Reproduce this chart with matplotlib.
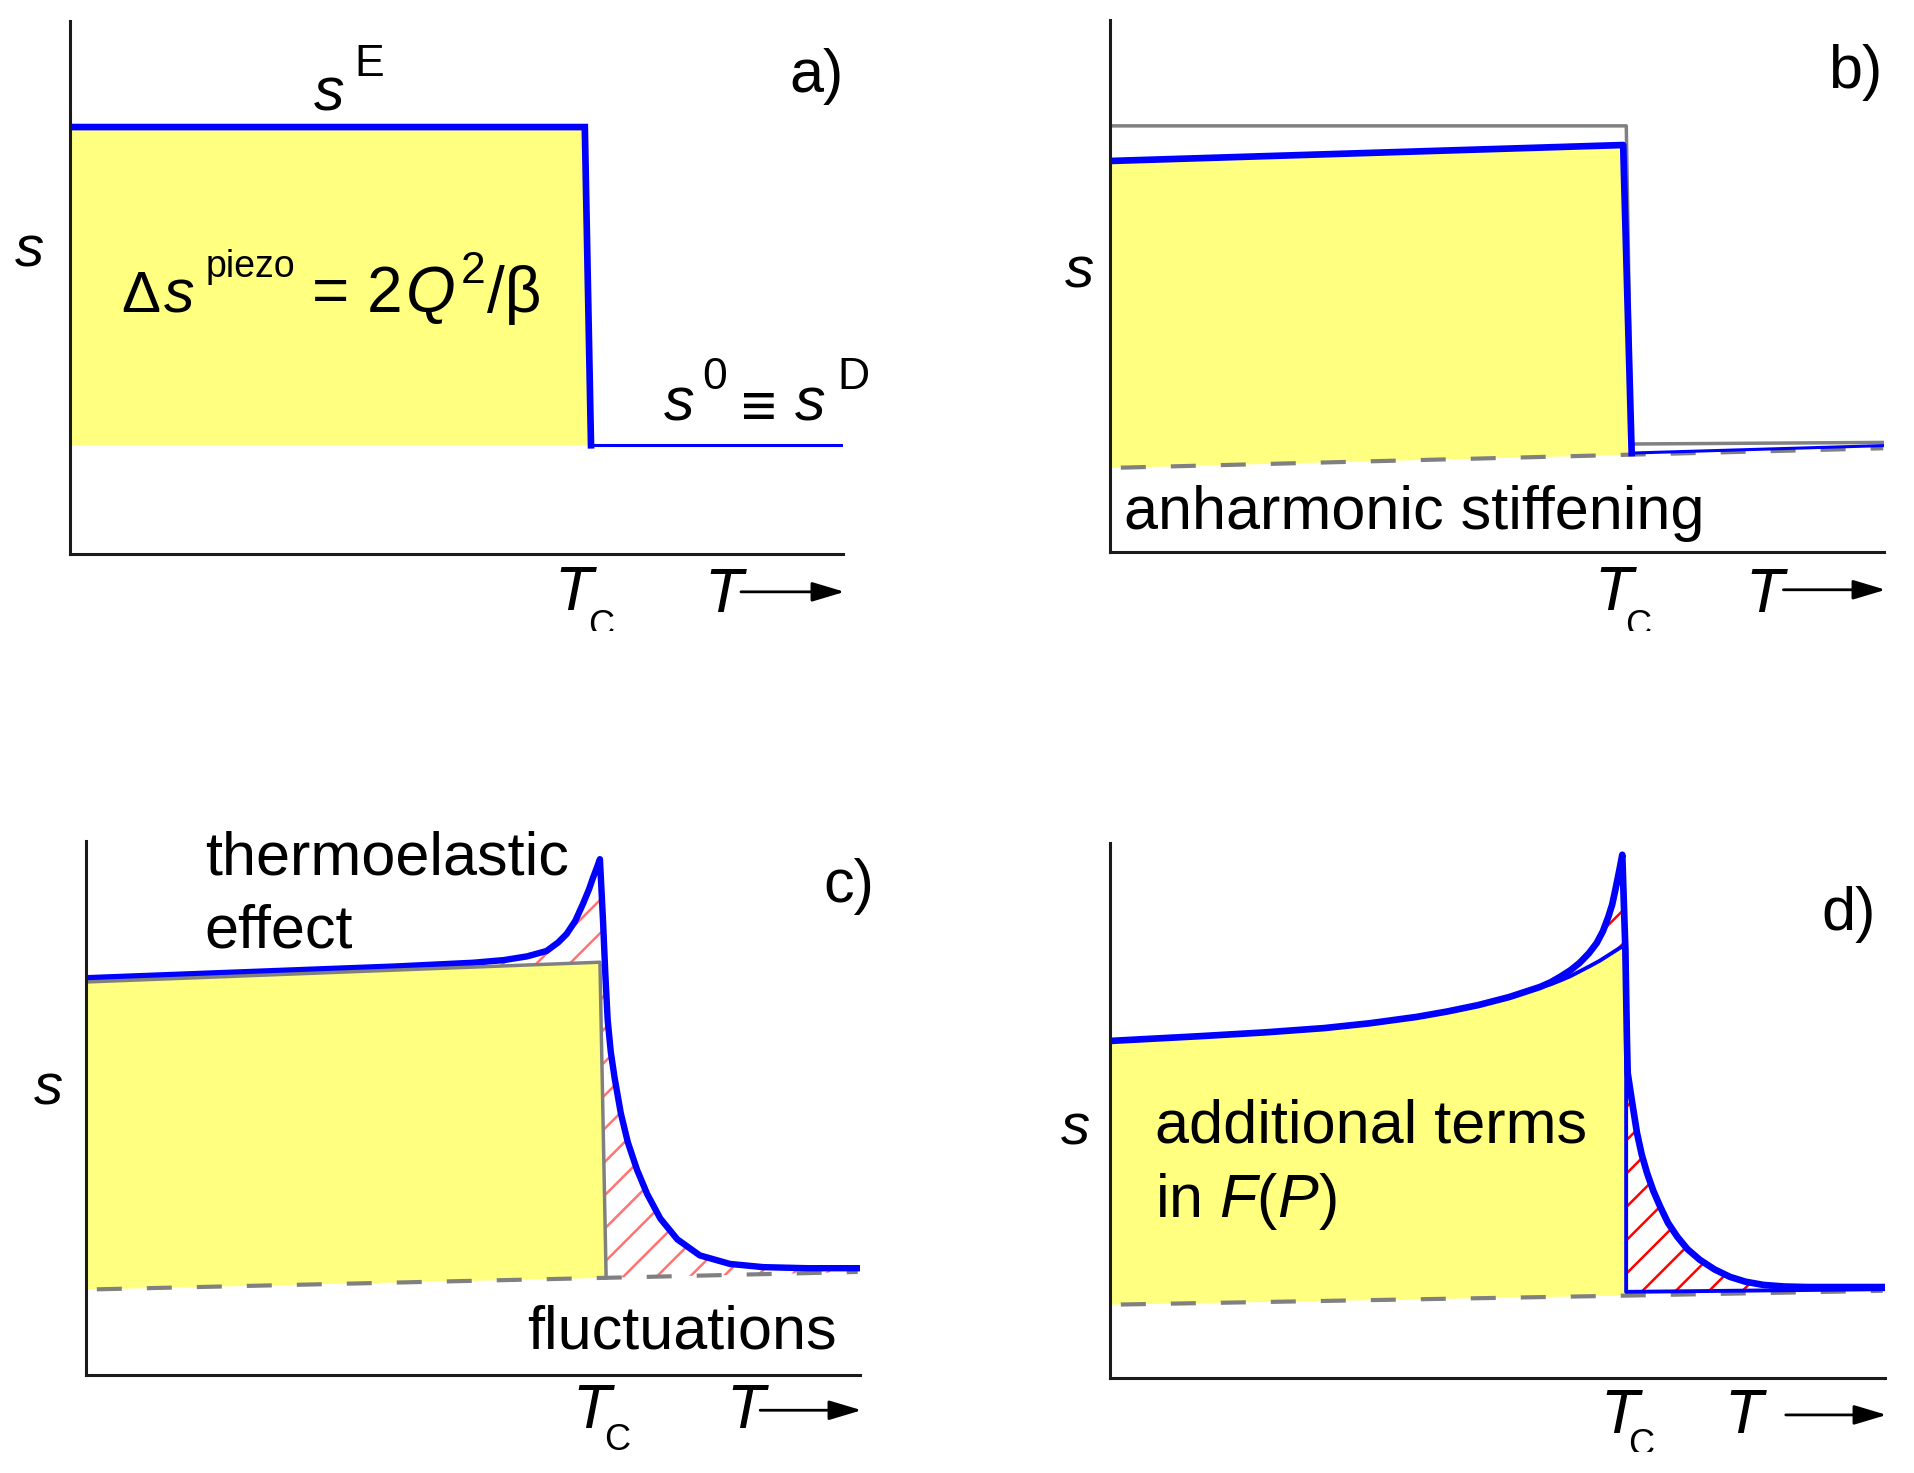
import matplotlib
matplotlib.use('Agg')
import matplotlib.pyplot as plt
from matplotlib.transforms import Bbox, TransformedBbox

plt.rcParams['font.family'] = ['Liberation Sans', 'DejaVu Sans']
plt.rcParams['mathtext.fontset'] = 'custom'
plt.rcParams['mathtext.rm'] = 'Liberation Sans'
plt.rcParams['mathtext.it'] = 'Liberation Sans:italic'
plt.rcParams['hatch.linewidth'] = 1.8

# a) plain step of the compliance at Tc
a_T = [0, 66.6, 67.4, 100]
a_s = [80.1, 80.1, 20.4, 20.4]

# b) anharmonic stiffening
b_T_gray = [0, 66.7, 67.4, 99.9]
b_s_gray = [80.1, 80.1, 20.3, 20.6]
b_T_blue = [0, 66.3, 67.4, 99.9]
b_s_blue = [73.5, 76.5, 18.6, 20.0]
b_T_base = [0, 67.4, 99.9]
b_s_base = [15.8, 18.3, 19.5]

# c) thermoelastic effect + fluctuations
c_T_gray = [0, 66.4, 67.2]
c_s_gray = [73.6, 77.3, 18.2]
c_T_base = [0, 67.2, 99.7]
c_s_base = [16.0, 18.2, 19.3]
c_T = [0, 20, 40, 50, 54, 57, 59.5, 61.0, 62.1, 63.2, 64.2, 65.0, 65.5, 66.0, 66.4,
       66.8, 67.1, 67.4, 67.8, 68.3, 69.1, 70.0, 71.2, 72.5, 74.2, 76.4, 79.3,
       83.2, 87.5, 93.2, 99.7]
c_s = [74.3, 75.4, 76.5, 77.2, 77.7, 78.4, 79.4, 81.0, 82.6, 85.0, 88.2, 91.0, 93.1, 95.0, 96.6,
       85.0, 75.0, 66.5, 60.5, 55.6, 49.0, 43.6, 38.4, 33.9, 29.3, 25.4, 22.4,
       20.8, 20.2, 20.0, 20.0]

# d) additional terms in F(P)
d_T_outer = [0, 11.7, 20, 27.6, 33.5, 39.6, 43.5, 47.5, 51.5, 55.5, 56.9, 58.1, 59.4, 60.6,
             61.8, 62.8, 63.6, 64.3, 64.8, 65.2, 65.5, 65.8, 66.1,
             66.5, 66.7, 66.8, 67.3, 68.0, 68.6, 69.3, 70.1, 71.0, 72.0, 73.2, 74.5,
             76.1, 78.0, 80.0, 82.0, 84.3, 87.0, 89.9, 99.9]
d_s_outer = [63.0, 63.9, 64.6, 65.4, 66.3, 67.5, 68.5, 69.7, 71.2, 73.1, 74.0, 75.0, 76.2, 77.6,
             79.4, 81.3, 83.5, 86.2, 88.5, 91.2, 93.3, 95.5, 97.8,
             80.0, 63.2, 57.0, 52.2, 45.8, 41.8, 38.3, 35.0, 32.0, 29.0, 26.4, 24.1,
             22.1, 20.3, 18.9, 18.0, 17.4, 17.1, 17.0, 17.0]
d_T_inner = [0, 11.7, 20, 27.6, 33.5, 39.6, 43.5, 47.5, 51.5, 55.5, 56.9, 58.1, 59.4, 60.6,
             61.8, 63.2, 64.5, 65.8, 66.6, 66.6, 99.9]
d_s_inner = [63.0, 63.9, 64.6, 65.4, 66.3, 67.5, 68.5, 69.7, 71.2, 73.0, 73.6, 74.3, 75.1, 76.0,
             76.9, 78.0, 79.2, 80.4, 80.9, 16.1, 16.6]
d_T_base = [0, 66.6, 99.7]
d_s_base = [13.7, 15.4, 16.3]

YELLOW = '#ffff80'
BLUE = '#0000ff'
GRAY = '#808080'
FS = 44
SUB = 32

W, H = 1915, 1473
fig = plt.figure(figsize=(W / 100, H / 100), dpi=100)


def panel(left, top, width, height):
    ax = fig.add_axes([left / W, 1 - (top + height) / H, width / W, height / H])
    ax.set_xlim(0, 100)
    ax.set_ylim(0, 100)
    ax.spines['top'].set_visible(False)
    ax.spines['right'].set_visible(False)
    for side in ['left', 'bottom']:
        ax.spines[side].set_linewidth(2.2)
        ax.spines[side].set_color('#1a1a1a')
    ax.set_xticks([])
    ax.set_yticks([])
    ax.patch.set_alpha(0)
    return ax


def t_labels(ax, tx, ty, cx, cy, ax2, ay2, ax0, arrow_y, clip_y=None):
    ax.text(tx, ty, 'T', style='italic', fontsize=45)
    c = ax.text(cx, cy, 'C', fontsize=26)
    if clip_y is not None:
        box = TransformedBbox(Bbox.from_extents(0, 1 - clip_y / H, 1, 1), fig.transFigure)
        c.set_clip_box(box)
        c.set_clip_on(True)
    ax.text(ax2, ay2, 'T', style='italic', fontsize=45)
    ax.annotate('', xy=(100.2, arrow_y), xytext=(ax0, arrow_y),
                arrowprops=dict(arrowstyle='-|>,head_length=0.4,head_width=0.12',
                                color='black', lw=2, mutation_scale=50,
                                shrinkA=0, shrinkB=0),
                annotation_clip=False)


# ---- a)
ax = panel(70, 21, 773, 533)
ax.fill(a_T[:3] + [a_T[0]], a_s[:3] + [a_s[3]], color=YELLOW, lw=0)
ax.plot(a_T[:3], a_s[:3], color=BLUE, lw=4.8, solid_joinstyle='miter')
ax.plot(a_T[2:], a_s[2:], color=BLUE, lw=2.2)
ax.text(-7.1, 54.0, 's', style='italic', fontsize=42)
ax.text(31.6, 83.3, 's', style='italic', fontsize=FS)
ax.text(36.8, 89.7, 'E', fontsize=SUB)
ax.text(6.6, 45.4, 'Δ', fontsize=42)
ax.text(12.2, 45.4, 's', style='italic', fontsize=44)
ax.text(17.5, 52.0, 'piezo', fontsize=27)
ax.text(31.3, 45.4, '= 2', fontsize=46)
ax.text(43.4, 45.4, 'Q', style='italic', fontsize=46)
ax.text(50.6, 50.8, '2', fontsize=SUB)
ax.text(53.9, 45.4, '/β', fontsize=46)
ax.text(76.8, 25.1, 's', style='italic', fontsize=FS)
ax.text(81.8, 31.0, '0', fontsize=SUB)
ax.text(86.8, 24.0, '≡', fontsize=FS)
ax.text(93.8, 25.1, 's', style='italic', fontsize=FS)
ax.text(99.3, 31.0, 'D', fontsize=SUB)
ax.text(93.0, 86.6, 'a)', fontsize=FS)
t_labels(ax, 62.6, -10.5, 67.0, -15.4, 82.1, -10.9, 86.8, -7.1, clip_y=631)

# ---- b)
ax = panel(1110, 20, 774, 532)
ax.fill(b_T_blue[:3] + b_T_base[1::-1], b_s_blue[:3] + b_s_base[1::-1], color=YELLOW, lw=0)
ax.plot(b_T_base, b_s_base, color=GRAY, lw=3, ls=(9.4, (6, 6)))
ax.plot(b_T_gray, b_s_gray, color=GRAY, lw=2.5)
ax.plot(b_T_blue[:3], b_s_blue[:3], color=BLUE, lw=4.8)
ax.plot(b_T_blue[2:], b_s_blue[2:], color=BLUE, lw=2.2)
ax.text(-5.8, 49.8, 's', style='italic', fontsize=42)
ax.text(1.8, 4.3, 'anharmonic stiffening', fontsize=FS)
ax.text(92.8, 87.3, 'b)', fontsize=FS)
t_labels(ax, 62.6, -10.9, 66.6, -15.8, 82.1, -11.3, 87.0, -7.1, clip_y=631)

# ---- c)
ax = panel(86, 841, 774, 534)
ax.fill(c_T_gray + [c_T_base[0]], c_s_gray + [c_s_base[0]], color=YELLOW, lw=0)
ax.fill(c_T + c_T_base[:0:-1] + c_T_gray[1::-1], c_s + c_s_base[:0:-1] + c_s_gray[1::-1],
        facecolor='none', edgecolor='#ff7373', hatch='/', lw=0)
ax.plot(c_T_base, c_s_base, color=GRAY, lw=3, ls=(9.4, (6, 6)))
ax.plot(c_T, c_s, color=BLUE, lw=4.6)
ax.plot(c_T_gray, c_s_gray, color=GRAY, lw=2.5)
ax.text(-6.7, 50.7, 's', style='italic', fontsize=42)
ax.text(15.4, 93.8, 'thermoelastic', fontsize=FS)
ax.text(15.3, 80.1, 'effect', fontsize=FS)
ax.text(57.0, 4.9, 'fluctuations', fontsize=FS)
ax.text(95.3, 88.6, 'c)', fontsize=FS)
t_labels(ax, 62.9, -9.9, 67.0, -14.0, 82.7, -9.9, 87.1, -6.6)

# ---- d)
ax = panel(1110, 843, 775, 535)
i0 = d_T_outer.index(55.5)
j0 = d_T_inner.index(55.5)
k0 = d_T_inner.index(66.6)
ax.fill(d_T_inner[:k0 + 1] + d_T_base[1::-1], d_s_inner[:k0 + 1] + d_s_base[1::-1],
        color=YELLOW, lw=0)
ax.fill(d_T_outer[i0:] + d_T_inner[:j0 - 1:-1], d_s_outer[i0:] + d_s_inner[:j0 - 1:-1],
        facecolor='none', edgecolor='#ff0000', hatch='/', lw=0)
ax.plot(d_T_base, d_s_base, color=GRAY, lw=3, ls=(9.4, (6, 6)))
ax.plot(d_T_inner, d_s_inner, color=BLUE, lw=2.8)
ax.plot(d_T_outer, d_s_outer, color=BLUE, lw=4.8)
ax.text(-6.3, 43.7, 's', style='italic', fontsize=42)
ax.text(5.8, 44.1, 'additional terms', fontsize=FS)
ax.text(5.8, 30.1, 'in $F$($P$)', fontsize=FS)
ax.text(91.8, 83.7, 'd)', fontsize=FS)
t_labels(ax, 63.3, -10.3, 66.9, -14.4, 79.3, -10.3, 87.2, -6.9, clip_y=1452)

fig.savefig('out.png', dpi=100)
